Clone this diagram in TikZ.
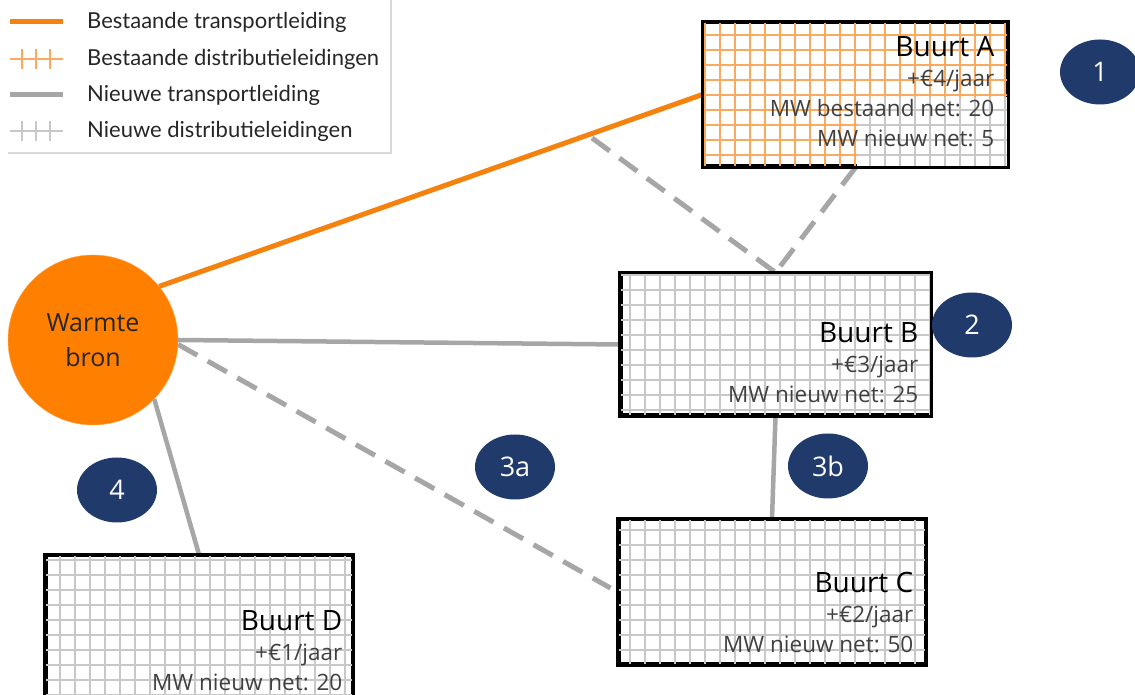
\documentclass[tikz,border=0pt]{standalone}
\usepackage{fontspec}
\setmainfont{Open Sans}
\newfontfamily\legendafont{Lato}
\usetikzlibrary{positioning,shapes.geometric}
\definecolor{bronoranje}{HTML}{FF8000}
\definecolor{lijnoranje}{HTML}{F5820F}
\definecolor{rasteroranje}{HTML}{F9AA5E}
\definecolor{lijngrijs}{HTML}{A6A6A6}
\definecolor{rastergrijs}{HTML}{C8C8C8}
\definecolor{badgeblauw}{HTML}{1F3A6B}
\definecolor{tekstgrijs}{HTML}{404040}
\newcommand{\titel}{\fontsize{28}{30}\selectfont\color{black}}
\begin{document}
\begin{tikzpicture}[x=1pt,y=1pt,
    transport/.style={line width=5pt, lijnoranje},
    nieuw/.style={line width=4.5pt, lijngrijs},
    optie/.style={line width=5pt, lijngrijs, dash pattern=on 22pt off 12pt},
    buurt/.style={draw=black, line width=3pt, inner sep=0pt},
    buurttekst/.style={align=right, inner sep=0pt, text=tekstgrijs, font=\fontsize{22.5}{30}\selectfont},
    badge/.style={ellipse, fill=badgeblauw, text=white, minimum width=80pt, minimum height=65pt, inner sep=0pt, font=\fontsize{27}{27}\selectfont},
    legendatekst/.style={anchor=west, inner sep=0pt, font=\legendafont\fontsize{22}{22}\selectfont, text=black!85}]
    \useasboundingbox (0,0) rectangle (1135,695);
    % legenda
    \draw[black!15, line width=1.5pt] (8,542) -- (391,542) -- (391,695);
    \draw[line width=5pt, lijnoranje] (10,673) -- (63,673);
    \draw[line width=1.5pt, rasteroranje] (10,636) -- (63,636);
    \foreach \x in {22,36,50} \draw[line width=1.5pt, rasteroranje] (\x,626) -- (\x,646);
    \draw[line width=5pt, lijngrijs] (10,600) -- (63,600);
    \draw[line width=1.5pt, rastergrijs] (10,564) -- (63,564);
    \foreach \x in {22,36,50} \draw[line width=1.5pt, rastergrijs] (\x,554) -- (\x,574);
    \foreach \y/\tekst/\naam in {673/Bestaande transportleiding/la,636/Bestaande distributieleidingen/lb,600/Nieuwe transportleiding/lc,564/Nieuwe distributieleidingen/ld}
        \node[legendatekst] (\naam) at (87,\y) {\tekst};
    % buurten en bron
    \node[buurt, minimum width=303pt, minimum height=143pt] (buurtA) at (855.5,600.5) {};
    \node[buurt, minimum width=309pt, minimum height=141pt] (buurtB) at (775.5,350.5) {};
    \node[buurt, minimum width=306pt, minimum height=144pt] (buurtC) at (772,103) {};
    \node[buurt, minimum width=306pt, minimum height=144pt] (buurtD) at (199,67) {};
    \node[circle, fill=bronoranje, draw=bronoranje!70, minimum size=170pt, align=center, text=black!85, font=\fontsize{25}{35}\selectfont] (bron) at (93,355) {Warmte\\bron};
    \coordinate (vrij) at (592,557);
    % leidingen
    \draw[transport] (bron.39) -- (buurtA.west);
    \draw[nieuw] (bron.east) -- (buurtB.west);
    \draw[optie, shorten >=8pt] (bron.-3) -- (buurtC.west);
    \draw[optie] (vrij) -- (buurtB.north);
    \draw[optie] (buurtA.south) -- (buurtB.north);
    \draw[nieuw] (buurtB.south) -- (buurtC.north);
    \draw[nieuw] (bron.-44) -- (buurtD.north);
    % rasters
    \draw[rasteroranje, line width=2pt, step=15] (buurtA.south west) grid (buurtA.north east);
    \fill[white] (857,529) rectangle (1007,598);
    \draw[rastergrijs, line width=2pt, step=15] (857,529) grid (1007,598);
    \foreach \b in {B,C,D}
        \draw[rastergrijs, line width=2pt, step=15] (buurt\b.south west) grid (buurt\b.north east);
    \foreach \b in {A,B,C,D}
        \draw[black, line width=3pt] (buurt\b.south west) rectangle (buurt\b.north east);
    % teksten
    \node[buurttekst, anchor=north east] (tekstA) at ([shift={(-14,-15)}]buurtA.north east) {{\titel Buurt A}\\+€4/jaar\\MW bestaand net: 20\\MW nieuw net: 5};
    \node[buurttekst, anchor=south east] (tekstB) at ([shift={(-13,13)}]buurtB.south east) {{\titel Buurt B}\\+€3/jaar\\MW nieuw net: 25};
    \node[buurttekst, anchor=south east] (tekstC) at ([shift={(-13,12)}]buurtC.south east) {{\titel Buurt C}\\+€2/jaar\\MW nieuw net: 50};
    \node[buurttekst, anchor=north east] (tekstD) at ([shift={(-11,-56)}]buurtD.north east) {{\titel Buurt D}\\+€1/jaar\\MW nieuw net: 20};
    % badges
    \node[badge] (b1) at (1100,623) {1};
    \node[badge] (b2) at (972,370) {2};
    \node[badge] (b3a) at (515,228) {3a};
    \node[badge] (b3b) at (828,229) {3b};
    \node[badge] (b4) at (117,205) {4};
\end{tikzpicture}
\end{document}
